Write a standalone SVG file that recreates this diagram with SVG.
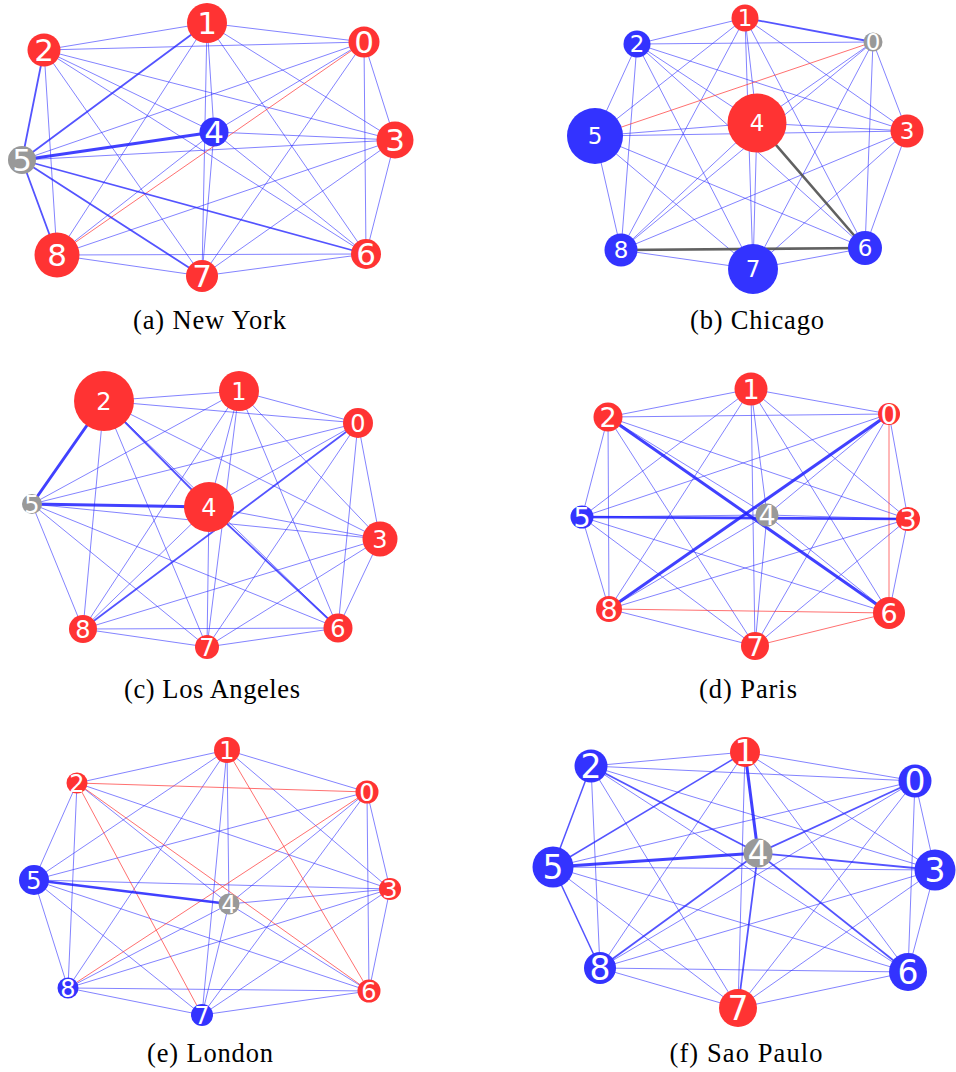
<svg xmlns="http://www.w3.org/2000/svg" width="956" height="1072" viewBox="0 0 956 1072">
<style>
  line{fill:none;stroke-linecap:round}
  .e{stroke:#3030ff;stroke-opacity:.6;stroke-width:1}
  .m{stroke:#2424ff;stroke-opacity:.78;stroke-width:1.8}
  .t{stroke:#2020ff;stroke-opacity:.85;stroke-width:3}
  .r{stroke:#ff3333;stroke-opacity:.7;stroke-width:1}
  .k{stroke:#505050;stroke-opacity:.9;stroke-width:2.6}
  .nr{fill:#ff3333}
  .nb{fill:#3333ff}
  .ng{fill:#999999}
  .node text{fill:#ffffff;font-family:"DejaVu Sans",sans-serif;text-anchor:middle}
  .pa .node text{font-size:31px}
  .pb .node text{font-size:23px}
  .pc .node text{font-size:24px}
  .pd .node text{font-size:27px}
  .pe .node text{font-size:24px}
  .pf .node text{font-size:33px}
  .cap{font-family:"Liberation Serif","Times New Roman",serif;font-size:26.5px;fill:#000;text-anchor:middle}
</style>

<!-- (a) New York -->
<g id="panel-a" class="pa">
  <g id="a-edges">
    <line class="e" x1="364" y1="42" x2="207" y2="23"/>
    <line class="e" x1="364" y1="42" x2="44" y2="50"/>
    <line class="e" x1="364" y1="42" x2="395" y2="140"/>
    <line class="e" x1="364" y1="42" x2="214" y2="132"/>
    <line class="e" x1="364" y1="42" x2="22" y2="160"/>
    <line class="e" x1="364" y1="42" x2="366" y2="254"/>
    <line class="e" x1="364" y1="42" x2="202" y2="276"/>
    <line class="e" x1="207" y1="23" x2="44" y2="50"/>
    <line class="e" x1="207" y1="23" x2="395" y2="140"/>
    <line class="e" x1="207" y1="23" x2="214" y2="132"/>
    <line class="e" x1="207" y1="23" x2="366" y2="254"/>
    <line class="e" x1="207" y1="23" x2="202" y2="276"/>
    <line class="e" x1="207" y1="23" x2="57" y2="255"/>
    <line class="e" x1="44" y1="50" x2="395" y2="140"/>
    <line class="e" x1="44" y1="50" x2="214" y2="132"/>
    <line class="e" x1="44" y1="50" x2="366" y2="254"/>
    <line class="e" x1="44" y1="50" x2="202" y2="276"/>
    <line class="e" x1="44" y1="50" x2="57" y2="255"/>
    <line class="e" x1="395" y1="140" x2="214" y2="132"/>
    <line class="e" x1="395" y1="140" x2="22" y2="160"/>
    <line class="e" x1="395" y1="140" x2="366" y2="254"/>
    <line class="e" x1="395" y1="140" x2="202" y2="276"/>
    <line class="e" x1="395" y1="140" x2="57" y2="255"/>
    <line class="e" x1="214" y1="132" x2="366" y2="254"/>
    <line class="e" x1="214" y1="132" x2="202" y2="276"/>
    <line class="e" x1="214" y1="132" x2="57" y2="255"/>
    <line class="e" x1="366" y1="254" x2="202" y2="276"/>
    <line class="e" x1="366" y1="254" x2="57" y2="255"/>
    <line class="e" x1="202" y1="276" x2="57" y2="255"/>
    <line class="r" x1="364" y1="42" x2="57" y2="255"/>
    <line class="m" x1="207" y1="23" x2="22" y2="160"/>
    <line class="m" x1="44" y1="50" x2="22" y2="160"/>
    <line class="m" x1="22" y1="160" x2="366" y2="254"/>
    <line class="m" x1="22" y1="160" x2="202" y2="276"/>
    <line class="m" x1="22" y1="160" x2="57" y2="255"/>
    <line class="t" x1="214" y1="132" x2="22" y2="160"/>
  </g>
  <g id="a-n0" class="node"><circle class="nr" cx="364" cy="42" r="15.5"/><text x="364" y="42" dy="0.36em">0</text></g>
  <g id="a-n1" class="node"><circle class="nr" cx="207" cy="23" r="20"/><text x="207" y="23" dy="0.36em">1</text></g>
  <g id="a-n2" class="node"><circle class="nr" cx="44" cy="50" r="16.5"/><text x="44" y="50" dy="0.36em">2</text></g>
  <g id="a-n3" class="node"><circle class="nr" cx="395" cy="140" r="18.5"/><text x="395" y="140" dy="0.36em">3</text></g>
  <g id="a-n4" class="node"><circle class="nb" cx="214" cy="132" r="14.5"/><text x="214" y="132" dy="0.36em">4</text></g>
  <g id="a-n5" class="node"><circle class="ng" cx="22" cy="160" r="14"/><text x="22" y="160" dy="0.36em">5</text></g>
  <g id="a-n6" class="node"><circle class="nr" cx="366" cy="254" r="15"/><text x="366" y="254" dy="0.36em">6</text></g>
  <g id="a-n7" class="node"><circle class="nr" cx="202" cy="276" r="16"/><text x="202" y="276" dy="0.36em">7</text></g>
  <g id="a-n8" class="node"><circle class="nr" cx="57" cy="255" r="22.5"/><text x="57" y="255" dy="0.36em">8</text></g>
  <text class="cap" x="209.5" y="329" textLength="153" lengthAdjust="spacing">(a) New York</text>
</g>

<!-- (b) Chicago -->
<g id="panel-b" class="pb">
  <g id="b-edges">
    <line class="e" x1="873" y1="42" x2="637" y2="44"/>
    <line class="e" x1="873" y1="42" x2="907" y2="131"/>
    <line class="e" x1="873" y1="42" x2="757" y2="123"/>
    <line class="e" x1="873" y1="42" x2="865" y2="248"/>
    <line class="e" x1="873" y1="42" x2="753" y2="269"/>
    <line class="e" x1="873" y1="42" x2="621" y2="250"/>
    <line class="e" x1="745" y1="18" x2="637" y2="44"/>
    <line class="e" x1="745" y1="18" x2="907" y2="131"/>
    <line class="e" x1="745" y1="18" x2="757" y2="123"/>
    <line class="e" x1="745" y1="18" x2="595" y2="136"/>
    <line class="e" x1="745" y1="18" x2="865" y2="248"/>
    <line class="e" x1="745" y1="18" x2="753" y2="269"/>
    <line class="e" x1="745" y1="18" x2="621" y2="250"/>
    <line class="e" x1="637" y1="44" x2="907" y2="131"/>
    <line class="e" x1="637" y1="44" x2="757" y2="123"/>
    <line class="e" x1="637" y1="44" x2="595" y2="136"/>
    <line class="e" x1="637" y1="44" x2="865" y2="248"/>
    <line class="e" x1="637" y1="44" x2="753" y2="269"/>
    <line class="e" x1="637" y1="44" x2="621" y2="250"/>
    <line class="e" x1="907" y1="131" x2="757" y2="123"/>
    <line class="e" x1="907" y1="131" x2="595" y2="136"/>
    <line class="e" x1="907" y1="131" x2="865" y2="248"/>
    <line class="e" x1="907" y1="131" x2="753" y2="269"/>
    <line class="e" x1="907" y1="131" x2="621" y2="250"/>
    <line class="e" x1="757" y1="123" x2="595" y2="136"/>
    <line class="e" x1="757" y1="123" x2="753" y2="269"/>
    <line class="e" x1="757" y1="123" x2="621" y2="250"/>
    <line class="e" x1="595" y1="136" x2="865" y2="248"/>
    <line class="e" x1="595" y1="136" x2="753" y2="269"/>
    <line class="e" x1="595" y1="136" x2="621" y2="250"/>
    <line class="e" x1="865" y1="248" x2="753" y2="269"/>
    <line class="e" x1="753" y1="269" x2="621" y2="250"/>
    <line class="m" x1="873" y1="42" x2="745" y2="18"/>
    <line class="r" x1="873" y1="42" x2="595" y2="136"/>
    <line class="k" x1="757" y1="123" x2="865" y2="248"/>
    <line class="k" x1="865" y1="248" x2="621" y2="250"/>
  </g>
  <g id="b-n0" class="node"><circle class="ng" cx="873" cy="42" r="9.5"/><text x="873" y="42" dy="0.36em">0</text></g>
  <g id="b-n1" class="node"><circle class="nr" cx="745" cy="18" r="13.5"/><text x="745" y="18" dy="0.36em">1</text></g>
  <g id="b-n2" class="node"><circle class="nb" cx="637" cy="44" r="13.5"/><text x="637" y="44" dy="0.36em">2</text></g>
  <g id="b-n3" class="node"><circle class="nr" cx="907" cy="131" r="16.5"/><text x="907" y="131" dy="0.36em">3</text></g>
  <g id="b-n4" class="node"><circle class="nr" cx="757" cy="123" r="29.5"/><text x="757" y="123" dy="0.36em">4</text></g>
  <g id="b-n5" class="node"><circle class="nb" cx="595" cy="136" r="28"/><text x="595" y="136" dy="0.36em">5</text></g>
  <g id="b-n6" class="node"><circle class="nb" cx="865" cy="248" r="17"/><text x="865" y="248" dy="0.36em">6</text></g>
  <g id="b-n7" class="node"><circle class="nb" cx="753" cy="269" r="25"/><text x="753" y="269" dy="0.36em">7</text></g>
  <g id="b-n8" class="node"><circle class="nb" cx="621" cy="250" r="16.5"/><text x="621" y="250" dy="0.36em">8</text></g>
  <text class="cap" x="757" y="329" textLength="134" lengthAdjust="spacing">(b) Chicago</text>
</g>

<!-- (c) Los Angeles -->
<g id="panel-c" class="pc">
  <g id="c-edges">
    <line class="e" x1="358" y1="423" x2="239" y2="391"/>
    <line class="e" x1="358" y1="423" x2="104" y2="401"/>
    <line class="e" x1="358" y1="423" x2="380" y2="539"/>
    <line class="e" x1="358" y1="423" x2="209" y2="507"/>
    <line class="e" x1="358" y1="423" x2="32" y2="504"/>
    <line class="e" x1="358" y1="423" x2="338" y2="628"/>
    <line class="e" x1="358" y1="423" x2="207" y2="647"/>
    <line class="e" x1="239" y1="391" x2="104" y2="401"/>
    <line class="e" x1="239" y1="391" x2="380" y2="539"/>
    <line class="e" x1="239" y1="391" x2="209" y2="507"/>
    <line class="e" x1="239" y1="391" x2="32" y2="504"/>
    <line class="e" x1="239" y1="391" x2="338" y2="628"/>
    <line class="e" x1="239" y1="391" x2="207" y2="647"/>
    <line class="e" x1="239" y1="391" x2="83" y2="629"/>
    <line class="e" x1="104" y1="401" x2="380" y2="539"/>
    <line class="e" x1="104" y1="401" x2="338" y2="628"/>
    <line class="e" x1="104" y1="401" x2="207" y2="647"/>
    <line class="e" x1="104" y1="401" x2="83" y2="629"/>
    <line class="e" x1="380" y1="539" x2="209" y2="507"/>
    <line class="e" x1="380" y1="539" x2="32" y2="504"/>
    <line class="e" x1="380" y1="539" x2="338" y2="628"/>
    <line class="e" x1="380" y1="539" x2="207" y2="647"/>
    <line class="e" x1="380" y1="539" x2="83" y2="629"/>
    <line class="e" x1="209" y1="507" x2="207" y2="647"/>
    <line class="e" x1="209" y1="507" x2="83" y2="629"/>
    <line class="e" x1="32" y1="504" x2="338" y2="628"/>
    <line class="e" x1="32" y1="504" x2="207" y2="647"/>
    <line class="e" x1="32" y1="504" x2="83" y2="629"/>
    <line class="e" x1="338" y1="628" x2="207" y2="647"/>
    <line class="e" x1="338" y1="628" x2="83" y2="629"/>
    <line class="e" x1="207" y1="647" x2="83" y2="629"/>
    <line class="m" x1="358" y1="423" x2="83" y2="629"/>
    <line class="m" x1="104" y1="401" x2="209" y2="507"/>
    <line class="m" x1="209" y1="507" x2="338" y2="628"/>
    <line class="t" x1="104" y1="401" x2="32" y2="504"/>
    <line class="t" x1="209" y1="507" x2="32" y2="504"/>
  </g>
  <g id="c-n0" class="node"><circle class="nr" cx="358" cy="423" r="15"/><text x="358" y="423" dy="0.36em">0</text></g>
  <g id="c-n1" class="node"><circle class="nr" cx="239" cy="391" r="20"/><text x="239" y="391" dy="0.36em">1</text></g>
  <g id="c-n2" class="node"><circle class="nr" cx="104" cy="401" r="30"/><text x="104" y="401" dy="0.36em">2</text></g>
  <g id="c-n3" class="node"><circle class="nr" cx="380" cy="539" r="17.5"/><text x="380" y="539" dy="0.36em">3</text></g>
  <g id="c-n4" class="node"><circle class="nr" cx="209" cy="507" r="25"/><text x="209" y="507" dy="0.36em">4</text></g>
  <g id="c-n5" class="node"><circle class="ng" cx="32" cy="504" r="10"/><text x="32" y="504" dy="0.36em">5</text></g>
  <g id="c-n6" class="node"><circle class="nr" cx="338" cy="628" r="14.5"/><text x="338" y="628" dy="0.36em">6</text></g>
  <g id="c-n7" class="node"><circle class="nr" cx="207" cy="647" r="12"/><text x="207" y="647" dy="0.36em">7</text></g>
  <g id="c-n8" class="node"><circle class="nr" cx="83" cy="629" r="14"/><text x="83" y="629" dy="0.36em">8</text></g>
  <text class="cap" x="212" y="698" textLength="176" lengthAdjust="spacing">(c) Los Angeles</text>
</g>

<!-- (d) Paris -->
<g id="panel-d" class="pd">
  <g id="d-edges">
    <line class="e" x1="889" y1="414" x2="751" y2="389"/>
    <line class="e" x1="889" y1="414" x2="608" y2="417"/>
    <line class="e" x1="889" y1="414" x2="908" y2="519"/>
    <line class="e" x1="889" y1="414" x2="767" y2="515"/>
    <line class="e" x1="889" y1="414" x2="582" y2="517"/>
    <line class="e" x1="889" y1="414" x2="755" y2="646"/>
    <line class="e" x1="751" y1="389" x2="608" y2="417"/>
    <line class="e" x1="751" y1="389" x2="908" y2="519"/>
    <line class="e" x1="751" y1="389" x2="767" y2="515"/>
    <line class="e" x1="751" y1="389" x2="582" y2="517"/>
    <line class="e" x1="751" y1="389" x2="889" y2="613"/>
    <line class="e" x1="751" y1="389" x2="755" y2="646"/>
    <line class="e" x1="751" y1="389" x2="609" y2="609"/>
    <line class="e" x1="608" y1="417" x2="908" y2="519"/>
    <line class="e" x1="608" y1="417" x2="767" y2="515"/>
    <line class="e" x1="608" y1="417" x2="582" y2="517"/>
    <line class="e" x1="608" y1="417" x2="755" y2="646"/>
    <line class="e" x1="608" y1="417" x2="609" y2="609"/>
    <line class="e" x1="908" y1="519" x2="767" y2="515"/>
    <line class="e" x1="908" y1="519" x2="889" y2="613"/>
    <line class="e" x1="908" y1="519" x2="755" y2="646"/>
    <line class="e" x1="908" y1="519" x2="609" y2="609"/>
    <line class="e" x1="767" y1="515" x2="582" y2="517"/>
    <line class="e" x1="767" y1="515" x2="889" y2="613"/>
    <line class="e" x1="767" y1="515" x2="755" y2="646"/>
    <line class="e" x1="767" y1="515" x2="609" y2="609"/>
    <line class="e" x1="582" y1="517" x2="889" y2="613"/>
    <line class="e" x1="582" y1="517" x2="755" y2="646"/>
    <line class="e" x1="582" y1="517" x2="609" y2="609"/>
    <line class="e" x1="755" y1="646" x2="609" y2="609"/>
    <line class="r" x1="889" y1="414" x2="889" y2="613"/>
    <line class="r" x1="889" y1="613" x2="609" y2="609"/>
    <line class="r" x1="889" y1="613" x2="755" y2="646"/>
    <line class="t" x1="908" y1="519" x2="582" y2="517" style="stroke-width:2.6"/>
    <line class="t" x1="608" y1="417" x2="889" y2="613"/>
    <line class="t" x1="889" y1="414" x2="609" y2="609"/>
  </g>
  <g id="d-n0" class="node"><circle class="nr" cx="889" cy="414" r="11"/><text x="889" y="414" dy="0.36em">0</text></g>
  <g id="d-n1" class="node"><circle class="nr" cx="751" cy="389" r="16.5"/><text x="751" y="389" dy="0.36em">1</text></g>
  <g id="d-n2" class="node"><circle class="nr" cx="608" cy="417" r="14.5"/><text x="608" y="417" dy="0.36em">2</text></g>
  <g id="d-n3" class="node"><circle class="nr" cx="908" cy="519" r="12"/><text x="908" y="519" dy="0.36em">3</text></g>
  <g id="d-n4" class="node"><circle class="ng" cx="767" cy="515" r="11.5"/><text x="767" y="515" dy="0.36em">4</text></g>
  <g id="d-n5" class="node"><circle class="nb" cx="582" cy="517" r="11.5"/><text x="582" y="517" dy="0.36em">5</text></g>
  <g id="d-n6" class="node"><circle class="nr" cx="889" cy="613" r="16"/><text x="889" y="613" dy="0.36em">6</text></g>
  <g id="d-n7" class="node"><circle class="nr" cx="755" cy="646" r="14"/><text x="755" y="646" dy="0.36em">7</text></g>
  <g id="d-n8" class="node"><circle class="nr" cx="609" cy="609" r="13"/><text x="609" y="609" dy="0.36em">8</text></g>
  <text class="cap" x="748" y="698" textLength="98" lengthAdjust="spacing">(d) Paris</text>
</g>

<!-- (e) London -->
<g id="panel-e" class="pe">
  <g id="e-edges">
    <line class="e" x1="367" y1="792" x2="227" y2="750"/>
    <line class="e" x1="367" y1="792" x2="390" y2="889"/>
    <line class="e" x1="367" y1="792" x2="229" y2="904"/>
    <line class="e" x1="367" y1="792" x2="34" y2="880"/>
    <line class="e" x1="367" y1="792" x2="369" y2="991"/>
    <line class="e" x1="367" y1="792" x2="202" y2="1015"/>
    <line class="e" x1="227" y1="750" x2="77" y2="783"/>
    <line class="e" x1="227" y1="750" x2="390" y2="889"/>
    <line class="e" x1="227" y1="750" x2="229" y2="904"/>
    <line class="e" x1="227" y1="750" x2="34" y2="880"/>
    <line class="e" x1="227" y1="750" x2="202" y2="1015"/>
    <line class="e" x1="227" y1="750" x2="68" y2="988"/>
    <line class="e" x1="77" y1="783" x2="390" y2="889"/>
    <line class="e" x1="77" y1="783" x2="229" y2="904"/>
    <line class="e" x1="77" y1="783" x2="34" y2="880"/>
    <line class="e" x1="77" y1="783" x2="68" y2="988"/>
    <line class="e" x1="390" y1="889" x2="229" y2="904"/>
    <line class="e" x1="390" y1="889" x2="34" y2="880"/>
    <line class="e" x1="390" y1="889" x2="369" y2="991"/>
    <line class="e" x1="390" y1="889" x2="202" y2="1015"/>
    <line class="e" x1="390" y1="889" x2="68" y2="988"/>
    <line class="e" x1="229" y1="904" x2="369" y2="991"/>
    <line class="e" x1="229" y1="904" x2="202" y2="1015"/>
    <line class="e" x1="229" y1="904" x2="68" y2="988"/>
    <line class="e" x1="34" y1="880" x2="369" y2="991"/>
    <line class="e" x1="34" y1="880" x2="202" y2="1015"/>
    <line class="e" x1="34" y1="880" x2="68" y2="988"/>
    <line class="e" x1="369" y1="991" x2="202" y2="1015"/>
    <line class="e" x1="369" y1="991" x2="68" y2="988"/>
    <line class="e" x1="202" y1="1015" x2="68" y2="988"/>
    <line class="r" x1="367" y1="792" x2="77" y2="783"/>
    <line class="r" x1="77" y1="783" x2="202" y2="1015"/>
    <line class="r" x1="77" y1="783" x2="369" y2="991"/>
    <line class="r" x1="227" y1="750" x2="369" y2="991"/>
    <line class="r" x1="367" y1="792" x2="68" y2="988"/>
    <line class="t" x1="229" y1="904" x2="34" y2="880" style="stroke-width:2.6"/>
  </g>
  <g id="e-n0" class="node"><circle class="nr" cx="367" cy="792" r="11.5"/><text x="367" y="792" dy="0.36em">0</text></g>
  <g id="e-n1" class="node"><circle class="nr" cx="227" cy="750" r="13"/><text x="227" y="750" dy="0.36em">1</text></g>
  <g id="e-n2" class="node"><circle class="nr" cx="77" cy="783" r="10.5"/><text x="77" y="783" dy="0.36em">2</text></g>
  <g id="e-n3" class="node"><circle class="nr" cx="390" cy="889" r="11"/><text x="390" y="889" dy="0.36em">3</text></g>
  <g id="e-n4" class="node"><circle class="ng" cx="229" cy="904" r="10.5"/><text x="229" y="904" dy="0.36em">4</text></g>
  <g id="e-n5" class="node"><circle class="nb" cx="34" cy="880" r="15"/><text x="34" y="880" dy="0.36em">5</text></g>
  <g id="e-n6" class="node"><circle class="nr" cx="369" cy="991" r="11.5"/><text x="369" y="991" dy="0.36em">6</text></g>
  <g id="e-n7" class="node"><circle class="nb" cx="202" cy="1015" r="11"/><text x="202" y="1015" dy="0.36em">7</text></g>
  <g id="e-n8" class="node"><circle class="nb" cx="68" cy="988" r="10.5"/><text x="68" y="988" dy="0.36em">8</text></g>
  <text class="cap" x="210" y="1062" textLength="126" lengthAdjust="spacing">(e) London</text>
</g>

<!-- (f) Sao Paulo -->
<g id="panel-f" class="pf">
  <g id="f-edges">
    <line class="e" x1="915" y1="781" x2="745" y2="752"/>
    <line class="e" x1="915" y1="781" x2="591" y2="766"/>
    <line class="e" x1="915" y1="781" x2="935" y2="870"/>
    <line class="e" x1="915" y1="781" x2="553" y2="867"/>
    <line class="e" x1="915" y1="781" x2="908" y2="972"/>
    <line class="e" x1="915" y1="781" x2="738" y2="1008"/>
    <line class="e" x1="915" y1="781" x2="600" y2="968"/>
    <line class="e" x1="745" y1="752" x2="591" y2="766"/>
    <line class="e" x1="745" y1="752" x2="935" y2="870"/>
    <line class="e" x1="745" y1="752" x2="908" y2="972"/>
    <line class="e" x1="745" y1="752" x2="738" y2="1008"/>
    <line class="e" x1="745" y1="752" x2="600" y2="968"/>
    <line class="e" x1="591" y1="766" x2="935" y2="870"/>
    <line class="e" x1="591" y1="766" x2="908" y2="972"/>
    <line class="e" x1="591" y1="766" x2="738" y2="1008"/>
    <line class="e" x1="591" y1="766" x2="600" y2="968"/>
    <line class="e" x1="935" y1="870" x2="553" y2="867"/>
    <line class="e" x1="935" y1="870" x2="908" y2="972"/>
    <line class="e" x1="935" y1="870" x2="738" y2="1008"/>
    <line class="e" x1="935" y1="870" x2="600" y2="968"/>
    <line class="e" x1="553" y1="867" x2="908" y2="972"/>
    <line class="e" x1="553" y1="867" x2="738" y2="1008"/>
    <line class="e" x1="908" y1="972" x2="738" y2="1008"/>
    <line class="e" x1="908" y1="972" x2="600" y2="968"/>
    <line class="e" x1="738" y1="1008" x2="600" y2="968"/>
    <line class="m" x1="745" y1="752" x2="553" y2="867" style="stroke-width:1.5"/>
    <line class="m" x1="591" y1="766" x2="553" y2="867" style="stroke-width:1.5"/>
    <line class="m" x1="553" y1="867" x2="600" y2="968" style="stroke-width:1.5"/>
    <line class="m" x1="591" y1="766" x2="758" y2="853"/>
    <line class="m" x1="915" y1="781" x2="758" y2="853"/>
    <line class="m" x1="935" y1="870" x2="758" y2="853"/>
    <line class="m" x1="758" y1="853" x2="908" y2="972"/>
    <line class="m" x1="758" y1="853" x2="600" y2="968"/>
    <line class="m" x1="758" y1="853" x2="738" y2="1008"/>
    <line class="t" x1="745" y1="752" x2="758" y2="853"/>
    <line class="t" x1="758" y1="853" x2="553" y2="867"/>
  </g>
  <g id="f-n0" class="node"><circle class="nb" cx="915" cy="781" r="16.5"/><text x="915" y="781" dy="0.36em">0</text></g>
  <g id="f-n1" class="node"><circle class="nr" cx="745" cy="752" r="15"/><text x="745" y="752" dy="0.36em">1</text></g>
  <g id="f-n2" class="node"><circle class="nb" cx="591" cy="766" r="16.5"/><text x="591" y="766" dy="0.36em">2</text></g>
  <g id="f-n3" class="node"><circle class="nb" cx="935" cy="870" r="20.5"/><text x="935" y="870" dy="0.36em">3</text></g>
  <g id="f-n4" class="node"><circle class="ng" cx="758" cy="853" r="14.5"/><text x="758" y="853" dy="0.36em">4</text></g>
  <g id="f-n5" class="node"><circle class="nb" cx="553" cy="867" r="20.5"/><text x="553" y="867" dy="0.36em">5</text></g>
  <g id="f-n6" class="node"><circle class="nb" cx="908" cy="972" r="19"/><text x="908" y="972" dy="0.36em">6</text></g>
  <g id="f-n7" class="node"><circle class="nr" cx="738" cy="1008" r="19"/><text x="738" y="1008" dy="0.36em">7</text></g>
  <g id="f-n8" class="node"><circle class="nb" cx="600" cy="968" r="16"/><text x="600" y="968" dy="0.36em">8</text></g>
  <text class="cap" x="746" y="1062" textLength="153" lengthAdjust="spacing">(f) Sao Paulo</text>
</g>
</svg>
